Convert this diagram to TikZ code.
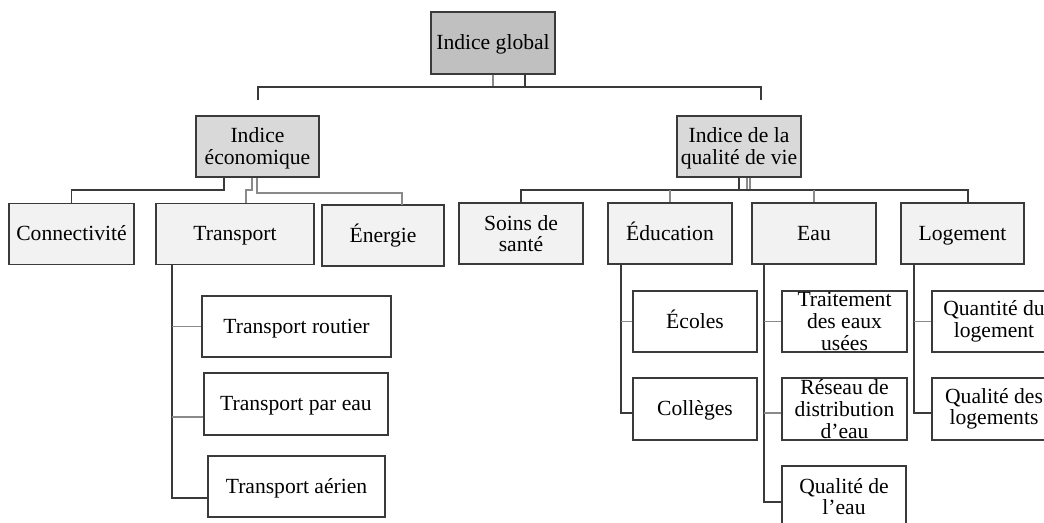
\documentclass[tikz,border=0pt]{standalone}
\usepackage{fontspec}
\setmainfont{Liberation Serif}
\newcommand\boxfont{\fontsize{10.8pt}{10.8pt}\selectfont}
\definecolor{gTop}{HTML}{C0C0C0}
\definecolor{gMid}{HTML}{D9D9D9}
\definecolor{gLvl}{HTML}{F2F2F2}
\definecolor{boxline}{HTML}{3A3A3A}
\definecolor{connL}{HTML}{8A8A8A}
\definecolor{connK}{HTML}{3A3A3A}
\tikzset{
  box/.style={draw=boxline, line width=0.6pt, inner sep=0pt, align=center, font=\boxfont},
  topbox/.style={box, fill=gTop},
  midbox/.style={box, fill=gMid},
  lvlbox/.style={box, fill=gLvl},
  leafbox/.style={box, fill=white},
  one/.style={text height=6.6pt, text depth=0pt},
  txt/.style={inner sep=0pt, align=center, font=\boxfont},
  conl/.style={draw=connL, line width=0.55pt},
  conk/.style={draw=connK, line width=0.55pt},
}
\begin{document}
\begin{tikzpicture}[x=0.5pt,y=-0.5pt]
\fill[white] (0,0) rectangle (1044,523);
\useasboundingbox (0,0) rectangle (1044,523);

% top
\node[topbox, one, minimum width=62pt, minimum height=31pt] (global) at (493,43) {Indice global};
\node[midbox, minimum width=61.5pt, minimum height=30.5pt] (econ) at (257.5,146.5) {};
\node[txt] (econT) at ([yshift=-1pt]econ.center) {Indice\\économique};
\node[midbox, minimum width=62pt, minimum height=30.5pt] (qual) at (739,146.5) {};
\node[txt] (qualT) at ([yshift=-1pt]qual.center) {Indice de la\\qualité de vie};

% level 2
\node[lvlbox, one, minimum width=62.5pt, minimum height=30.5pt] (conn) at (71.5,234) {Connectivité};
\node[lvlbox, one, minimum width=79pt, minimum height=30.5pt] (transport) at (235,234) {Transport};
\node[lvlbox, one, minimum width=61pt, minimum height=30.5pt] (energie) at (383,235.5) {Énergie};
\node[lvlbox, minimum width=62pt, minimum height=30.5pt] (soins) at (521,233.5) {Soins de\\santé};
\node[lvlbox, one, minimum width=62pt, minimum height=30.5pt] (educ) at (670,233.5) {Éducation};
\node[lvlbox, one, minimum width=62pt, minimum height=30.5pt] (eau) at (814,233.5) {Eau};
\node[lvlbox, one, minimum width=61.5pt, minimum height=30.5pt] (logement) at (962.5,233.5) {Logement};

% leaves
\node[leafbox, one, minimum width=94.5pt, minimum height=30.5pt] (routier) at (296.5,326.5) {Transport routier};
\node[leafbox, one, minimum width=92pt, minimum height=31pt] (pareau) at (296,404) {Transport par eau};
\node[leafbox, one, minimum width=88.5pt, minimum height=30.5pt] (aerien) at (296.5,486.5) {Transport aérien};
\node[leafbox, one, minimum width=62pt, minimum height=30.5pt] (ecoles) at (695,321.5) {Écoles};
\node[leafbox, one, minimum width=62pt, minimum height=31pt] (colleges) at (695,409) {Collèges};
\node[leafbox, minimum width=62.5pt, minimum height=30.5pt] (trait) at (844.5,321.5) {};
\node[txt] (traitT) at (trait.center) {Traitement\\des eaux\\usées};
\node[leafbox, minimum width=62.5pt, minimum height=31pt] (reseau) at (844.5,409) {};
\node[txt] (reseauT) at (reseau.center) {Réseau de\\distribution\\d’eau};
\node[leafbox, minimum width=62pt, minimum height=30.5pt] (qeau) at (844,496.5) {Qualité de\\l’eau};
\node[leafbox, minimum width=62pt, minimum height=30.5pt] (quant) at (994,321.5) {Quantité du\\logement};
\node[leafbox, minimum width=62pt, minimum height=31pt] (qlog) at (994,409) {Qualité des\\logements};

% connectors: global
\coordinate (g1) at (525,87);
\coordinate (gL) at (258,100);
\coordinate (gR) at (761,100);
\draw[conl] (global.south) -- (global.south |- g1);
\draw[conk] (global.south -| g1) -- (g1);
\draw[conk] (gL) |- (gR |- g1) -- (gR);

% connectors: economic
\coordinate (e1) at (224,190);
\coordinate (e2) at (252,190);
\coordinate (e2b) at (246,203);
\coordinate (e3) at (257,193);
\coordinate (e3b) at (402,205);
\draw[conk] (econ.south -| e1) -- (e1) -| (conn.north);
\draw[conl] (econ.south -| e2) -- (e2) -| (e2b);
\draw[conl] (econ.south -| e3) -- (e3) -| (e3b);

% connectors: quality of life
\coordinate (q1) at (739,190);
\coordinate (q2) at (747,190);
\coordinate (q3) at (750,190);
\coordinate (q4) at (968,203);
\draw[conk] (qual.south) -- (q1);
\draw[conl] (qual.south -| q2) -- (q2);
\draw[conl] (qual.south -| q3) -- (q3);
\draw[conk] (soins.north) |- (q4 |- q1) -- (q4);
\draw[conl] (educ.north) -- (educ.north |- q1);
\draw[conl] (eau.north) -- (eau.north |- q1);

% transport children
\coordinate (t0) at (172,498);
\coordinate (t2) at (172,417);
\draw[conk] (transport.south -| t0) -- (t0) -- (aerien.west |- t0);
\draw[conl] (routier.west -| t0) -- (routier.west);
\draw[conl] (t2) -- (pareau.west |- t2);

% education children
\coordinate (d0) at (621,413);
\draw[conk] (educ.south -| d0) -- (d0) -- (colleges.west |- d0);
\draw[conl] (ecoles.west -| d0) -- (ecoles.west);

% water children
\coordinate (w0) at (764,502);
\coordinate (w2) at (764,413);
\draw[conk] (eau.south -| w0) -- (w0) -- (qeau.west |- w0);
\draw[conl] (trait.west -| w0) -- (trait.west);
\draw[conl] (w2) -- (reseau.west |- w2);

% housing children
\coordinate (l0) at (914,413);
\draw[conk] (logement.south -| l0) -- (l0) -- (qlog.west |- l0);
\draw[conl] (quant.west -| l0) -- (quant.west);
\end{tikzpicture}
\end{document}
